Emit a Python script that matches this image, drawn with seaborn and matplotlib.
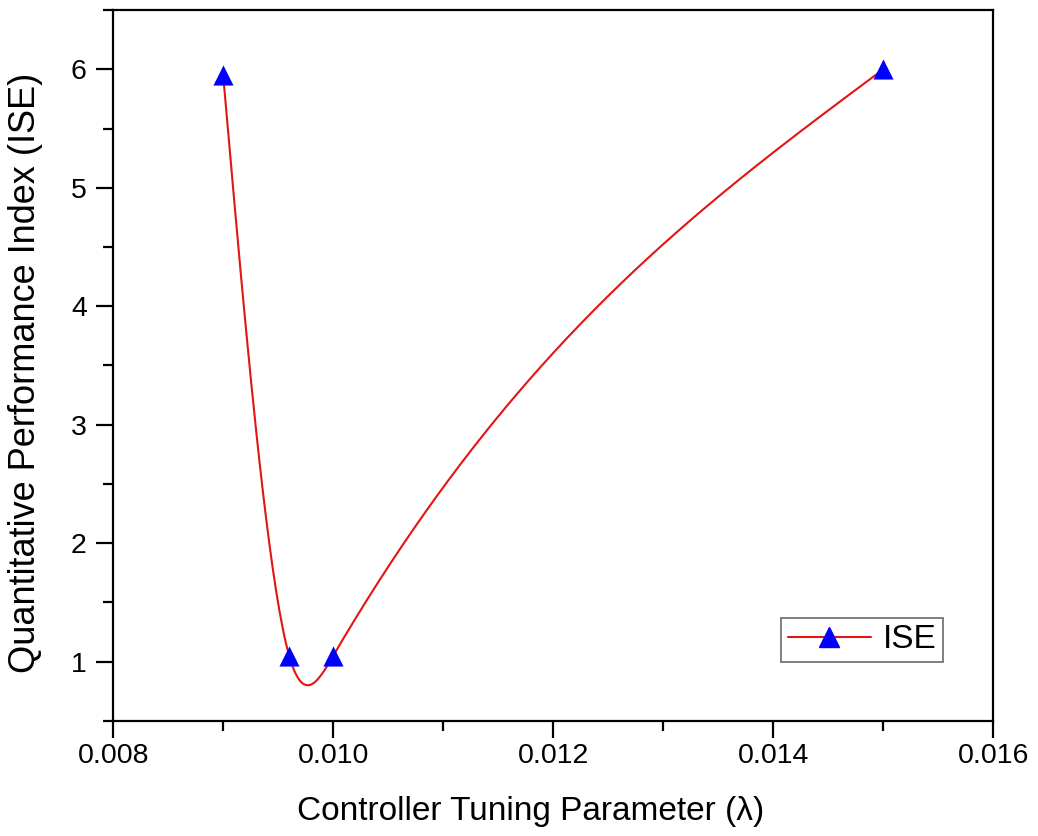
import numpy as np
import pandas as pd
import matplotlib
matplotlib.use("Agg")
import matplotlib.pyplot as plt
from matplotlib.lines import Line2D
from matplotlib.ticker import MultipleLocator
import seaborn as sns

lam = [0.0090, 0.0096, 0.0100, 0.0150]
ise = [5.95, 1.05, 1.05, 6.00]
series_name = "ISE"
x_label = "Controller Tuning Parameter (\u03bb)"
y_label = "Quantitative Performance Index (ISE)"
x_ticks = [0.008, 0.010, 0.012, 0.014, 0.016]
x_tick_labels = ["0.008", "0.010", "0.012", "0.014", "0.016"]
y_ticks = [1, 2, 3, 4, 5, 6]


def natural_spline(x, y, n=400):
    x = np.asarray(x, float); y = np.asarray(y, float)
    m = len(x); h = np.diff(x)
    A = np.zeros((m, m)); b = np.zeros(m)
    A[0, 0] = 1; A[-1, -1] = 1
    for i in range(1, m - 1):
        A[i, i - 1] = h[i - 1]; A[i, i] = 2 * (h[i - 1] + h[i]); A[i, i + 1] = h[i]
        b[i] = 3 * ((y[i + 1] - y[i]) / h[i] - (y[i] - y[i - 1]) / h[i - 1])
    c = np.linalg.solve(A, b)
    xs = np.linspace(x[0], x[-1], n); ys = np.empty_like(xs)
    for k, t in enumerate(xs):
        i = min(np.searchsorted(x, t, side="right") - 1, m - 2)
        dx = t - x[i]
        bi = (y[i + 1] - y[i]) / h[i] - h[i] * (2 * c[i] + c[i + 1]) / 3
        di = (c[i + 1] - c[i]) / (3 * h[i])
        ys[k] = y[i] + bi * dx + c[i] * dx ** 2 + di * dx ** 3
    return xs, ys


sns.set_theme(style="white")
plt.rcParams["font.family"] = ["Liberation Sans", "DejaVu Sans"]
plt.rcParams["text.color"] = "black"
plt.rcParams["axes.labelcolor"] = "black"
plt.rcParams["xtick.color"] = "black"
plt.rcParams["ytick.color"] = "black"

fig = plt.figure(figsize=(10.38, 8.36), dpi=100)
ax = fig.add_axes([0.109, 0.1376, 0.848, 0.8504])

xs, ys = natural_spline(lam, ise)
curve = pd.DataFrame({"x": xs, "y": ys})
pts = pd.DataFrame({"x": lam, "y": ise})
sns.lineplot(data=curve, x="x", y="y", ax=ax, color="#e31512", linewidth=1.5, sort=False)
sns.scatterplot(data=pts, x="x", y="y", ax=ax, marker="^", color="#0000ff", s=210,
                edgecolor="#0000ff", linewidth=0, zorder=3)

ax.set_xlim(0.008, 0.016)
ax.set_ylim(0.5, 6.5)
ax.xaxis.set_minor_locator(MultipleLocator(0.001))
ax.yaxis.set_minor_locator(MultipleLocator(0.5))
ax.set_xticks(x_ticks)
ax.set_xticklabels(x_tick_labels)
ax.set_yticks(y_ticks)
ax.tick_params(axis="both", which="major", direction="out", length=12, width=1.6,
               labelsize=20.5, color="black", bottom=True, left=True, top=False, right=False)
ax.tick_params(axis="x", which="major", pad=4)
ax.tick_params(axis="y", which="major", pad=7)
ax.tick_params(axis="both", which="minor", direction="out", length=7, width=1.6,
               color="black", bottom=True, left=True, top=False, right=False)
for s in ax.spines.values():
    s.set_visible(True)
    s.set_color("black")
    s.set_linewidth(1.6)

ax.set_xlabel(x_label, fontsize=24)
ax.set_ylabel(y_label, fontsize=26)
ax.xaxis.set_label_coords(0.474, -0.106)
ax.yaxis.set_label_coords(-0.0795, 0.49)

handle = Line2D([], [], color="#e31512", linewidth=1.5, marker="^", markersize=14.5,
                markerfacecolor="#0000ff", markeredgecolor="#0000ff")
leg = ax.legend([handle], [series_name], loc="lower right", bbox_to_anchor=(0.943, 0.083),
                fontsize=24, frameon=True, fancybox=False, edgecolor="#444444",
                handlelength=2.5, handletextpad=0.35, borderpad=0.2, borderaxespad=0)
leg.get_frame().set_linewidth(1.2)

fig.savefig("out.png", dpi=100, facecolor="white")
